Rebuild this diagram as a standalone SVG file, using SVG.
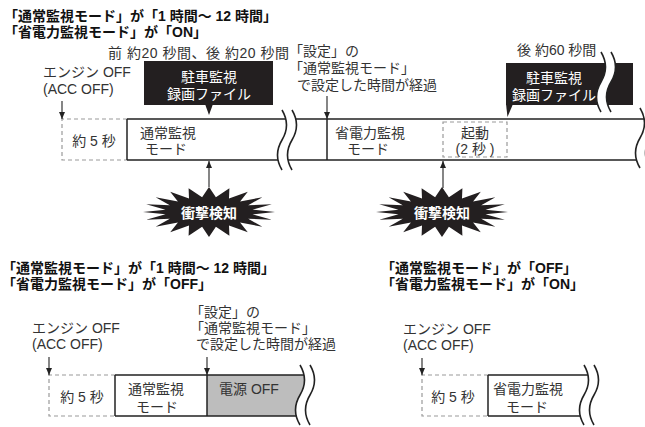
<svg xmlns="http://www.w3.org/2000/svg" width="645" height="427" viewBox="0 0 645 427">
<style>
text{font-family:"Liberation Sans","Noto Sans CJK JP",sans-serif;font-size:14px;fill:#333}
.h{font-weight:bold;fill:#111}
.w{fill:#fff}
.wb{fill:#fff;font-weight:bold}
.m{text-anchor:middle}
.bar{fill:none;stroke:#222;stroke-width:1.5}
.dash{fill:none;stroke:#9a9a9a;stroke-width:1.2;stroke-dasharray:4 3}
.arr{stroke:#222;stroke-width:1.1;fill:none;marker-end:url(#ah)}
.blk{fill:#231f20}
</style>
<defs>
<marker id="ah" markerUnits="userSpaceOnUse" markerWidth="8" markerHeight="8" refX="7" refY="3" orient="auto"><path d="M0,0 L7,3 L0,6 Z" fill="#222"/></marker>
<path id="gap" d="M0,0 Q9,15 0,30 Q-9,45 0,60 L10,60 Q1,45 10,30 Q19,15 10,0 Z" fill="#fff"/>
<path id="cut" d="M0,0 Q9,15 0,30 Q-9,45 0,60 L40,60 L40,0 Z" fill="#fff"/>
<path id="waves" d="M0,0 Q9,15 0,30 Q-9,45 0,60 M10,0 Q19,15 10,30 Q1,45 10,60" fill="none" stroke="#222" stroke-width="1.6"/>
<polygon id="burst" fill="#231f20" points="66,0 43.5,2.3 62.8,7.7 39.2,6.8 53.4,14.7 31.1,10.6 38.8,20.2 20,13.4 20.4,23.8 6.9,14.8 0,25 -6.9,14.8 -20.4,23.8 -20,13.4 -38.8,20.2 -31.1,10.6 -53.4,14.7 -39.2,6.8 -62.8,7.7 -43.5,2.3 -66,0 -43.5,-2.3 -62.8,-7.7 -39.2,-6.8 -53.4,-14.7 -31.1,-10.6 -38.8,-20.2 -20,-13.4 -20.4,-23.8 -6.9,-14.8 0,-25 6.9,-14.8 20.4,-23.8 20,-13.4 38.8,-20.2 31.1,-10.6 53.4,-14.7 39.2,-6.8 62.8,-7.7 43.5,-2.3"/>
</defs>

<!-- ===== Top section ===== -->
<g id="top-title">
<text class="h" x="4" y="21">「通常監視モード」が「1 時間～ 12 時間」</text>
<text class="h" x="4" y="36.7">「省電力監視モード」が「ON」</text>
</g>
<g id="top-labels">
<text x="108" y="58" textLength="181" lengthAdjust="spacing">前 約20 秒間、後 約20 秒間</text>
<text x="43" y="77">エンジン OFF</text>
<text x="43" y="94">(ACC OFF)</text>
<text x="289" y="56">「設定」の</text>
<text x="289" y="73">「通常監視モード」</text>
<text x="297" y="90">で設定した時間が経過</text>
<text x="517" y="55">後 約60 秒間</text>
</g>
<g id="top-timeline">
<path class="bar" d="M127,119 H645 M127,160 H645"/>
<use href="#gap" transform="translate(282,110)"/>
<use href="#waves" transform="translate(282,110)"/>
<use href="#cut" transform="translate(640,108)"/>
<use href="#waves" transform="translate(640,108)"/>
</g>
<g id="top-wait">
<path class="dash" d="M127,119 H62 V160 H127"/>
<text class="m" x="94" y="146">約 5 秒</text>
</g>
<g id="top-normal">
<path class="bar" d="M127,119 V160"/>
<text x="140" y="138">通常監視</text>
<text class="m" x="166" y="154">モード</text>
</g>
<g id="top-saving">
<path class="bar" d="M327,119 V160"/>
<text x="335" y="138">省電力監視</text>
<text class="m" x="368" y="154">モード</text>
</g>
<g id="top-boot">
<rect class="dash" x="443" y="122" width="64" height="35"/>
<text class="m" x="475" y="138">起動</text>
<text class="m" x="475" y="154">(2 秒 )</text>
</g>
<g id="top-rec1">
<rect class="blk" x="144" y="61" width="129" height="44"/>
<polygon class="blk" points="205,104 209,115 213,104"/>
<text class="w m" x="209" y="82">駐車監視</text>
<text class="w m" x="209" y="99">録画ファイル</text>
</g>
<g id="top-rec2">
<rect class="blk" x="506" y="63" width="127" height="42"/>
<polygon class="blk" points="506,104 507.5,117 513,104"/>
<use href="#gap" transform="translate(601,52)"/>
<use href="#waves" transform="translate(601,52)"/>
<text class="w m" x="554" y="83">駐車監視</text>
<text class="w m" x="554" y="100">録画ファイル</text>
</g>
<g id="top-shock1">
<use href="#burst" transform="translate(209,212)"/>
<text class="wb m" x="209" y="217.5">衝撃検知</text>
</g>
<g id="top-shock2">
<use href="#burst" transform="translate(442,212)"/>
<text class="wb m" x="442" y="217.5">衝撃検知</text>
</g>

<!-- ===== Bottom left ===== -->
<g id="bl-title">
<text class="h" x="2" y="273">「通常監視モード」が「1 時間～ 12 時間」</text>
<text class="h" x="2" y="288.7">「省電力監視モード」が「OFF」</text>
</g>
<g id="bl-labels">
<text x="32" y="333">エンジン OFF</text>
<text x="32" y="349">(ACC OFF)</text>
<text x="190" y="317">「設定」の</text>
<text x="190" y="333">「通常監視モード」</text>
<text x="196" y="349">で設定した時間が経過</text>
</g>
<g id="bl-timeline">
<rect x="207" y="375" width="100" height="41" fill="#bdbdbd"/>
<path class="bar" d="M115,375 H310 M115,416 H310"/>
<use href="#cut" transform="translate(300,365)"/>
<use href="#waves" transform="translate(300,365)"/>
</g>
<g id="bl-wait">
<path class="dash" d="M115,375 H49 V416 H115"/>
<text class="m" x="82" y="402">約 5 秒</text>
</g>
<g id="bl-normal">
<path class="bar" d="M115,375 V416"/>
<text x="128" y="394">通常監視</text>
<text class="m" x="157" y="412">モード</text>
</g>
<g id="bl-poweroff">
<path class="bar" d="M207,375 V416"/>
<text x="219" y="394">電源 OFF</text>
</g>

<!-- ===== Bottom right ===== -->
<g id="br-title">
<text class="h" x="381" y="273">「通常監視モード」が「OFF」</text>
<text class="h" x="381" y="289">「省電力監視モード」が「ON」</text>
</g>
<g id="br-labels">
<text x="403" y="334">エンジン OFF</text>
<text x="403" y="350">(ACC OFF)</text>
</g>
<g id="br-timeline">
<path class="bar" d="M488,375 H595 M488,416 H595"/>
<use href="#cut" transform="translate(584,365)"/>
<use href="#waves" transform="translate(584,365)"/>
</g>
<g id="br-wait">
<path class="dash" d="M488,375 H422 V416 H488"/>
<text class="m" x="453" y="402">約 5 秒</text>
</g>
<g id="br-saving">
<path class="bar" d="M488,375 V416"/>
<text x="493" y="394">省電力監視</text>
<text class="m" x="527" y="412">モード</text>
</g>

<!-- ===== Connectors ===== -->
<g id="connectors">
<line class="arr" x1="62" y1="101" x2="62" y2="119"/>
<line class="arr" x1="327" y1="96" x2="327" y2="119"/>
<line class="arr" x1="209" y1="187" x2="209" y2="161"/>
<line class="arr" x1="443" y1="188" x2="443" y2="161"/>
<line class="arr" x1="49" y1="357" x2="49" y2="375"/>
<line class="arr" x1="207" y1="357" x2="207" y2="375"/>
<line class="arr" x1="422" y1="358" x2="422" y2="375"/>
</g>
</svg>
